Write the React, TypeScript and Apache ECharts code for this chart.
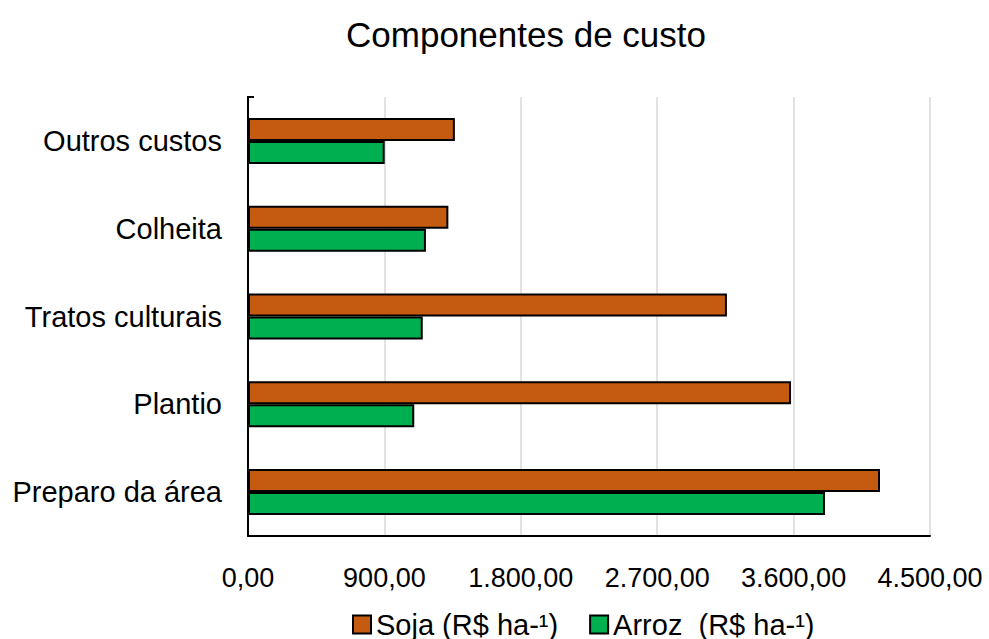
import React, { useEffect, useRef } from "react";
import * as echarts from "echarts";

// Cost components, listed from the bottom of the chart to the top
const categories = ["Preparo da área", "Plantio", "Tratos culturais", "Colheita", "Outros custos"];
const sojaValues = [4170, 3583, 3160, 1322, 1365];
const arrozValues = [3807, 1097, 1153, 1174, 902];
const sojaName = "Soja (R$ ha-¹)";
const arrozName = "Arroz  (R$ ha-¹)";

const FONT = "'Liberation Sans', Arial, sans-serif";

// 1800 -> "1.800,00"
function formatBR(v: number): string {
  const fixed = v.toFixed(2);
  const [intPart, dec] = fixed.split(".");
  const withDots = intPart.replace(/\B(?=(\d{3})+(?!\d))/g, ".");
  return `${withDots},${dec}`;
}

export default function App() {
  const ref = useRef<HTMLDivElement>(null);

  useEffect(() => {
    if (!ref.current) return;
    const chart = echarts.init(ref.current, undefined, { renderer: "svg" });
    chart.setOption({
      animation: false,
      backgroundColor: "#ffffff",
      title: {
        text: "Componentes de custo",
        left: 521,
        top: 12,
        textAlign: "center",
        textStyle: { fontFamily: FONT, fontSize: 35, fontWeight: "normal", color: "#000" },
      },
      legend: {
        data: [sojaName, arrozName],
        left: 352,
        top: 610,
        padding: 0,
        itemWidth: 18,
        itemHeight: 18,
        itemGap: 31,
        icon: "rect",
        textStyle: { fontFamily: FONT, fontSize: 29, color: "#000" },
      },
      grid: { left: 248, right: 59, top: 97, bottom: 103 },
      xAxis: {
        type: "value",
        min: 0,
        max: 4500,
        interval: 900,
        axisLine: { show: true, lineStyle: { color: "#000", width: 2 } },
        axisTick: { show: false },
        splitLine: { show: true, lineStyle: { color: "#d9d9d9", width: 1.5 } },
        axisLabel: {
          fontFamily: FONT,
          fontSize: 27,
          color: "#000",
          margin: 28,
          formatter: (v: number) => formatBR(v),
        },
      },
      yAxis: {
        type: "category",
        data: categories,
        axisLine: { show: true, lineStyle: { color: "#000", width: 2 } },
        axisTick: { show: false },
        axisLabel: { fontFamily: FONT, fontSize: 29, color: "#000", margin: 26 },
      },
      graphic: [
        {
          type: "line",
          shape: { x1: 247, y1: 97, x2: 254, y2: 97 },
          style: { stroke: "#000", lineWidth: 2 },
        },
      ],
      series: [
        {
          name: sojaName,
          type: "bar",
          data: sojaValues,
          barWidth: 23,
          barGap: "0%",
          itemStyle: { color: "#C55A11", borderColor: "#000", borderWidth: 2 },
        },
        {
          name: arrozName,
          type: "bar",
          data: arrozValues,
          barWidth: 23,
          barGap: "0%",
          itemStyle: { color: "#00B050", borderColor: "#000", borderWidth: 2 },
        },
      ],
    });
    return () => chart.dispose();
  }, []);

  return (
    <div
      ref={ref}
      style={{ position: "fixed", left: 0, top: 0, width: 989, height: 639 }}
    />
  );
}
